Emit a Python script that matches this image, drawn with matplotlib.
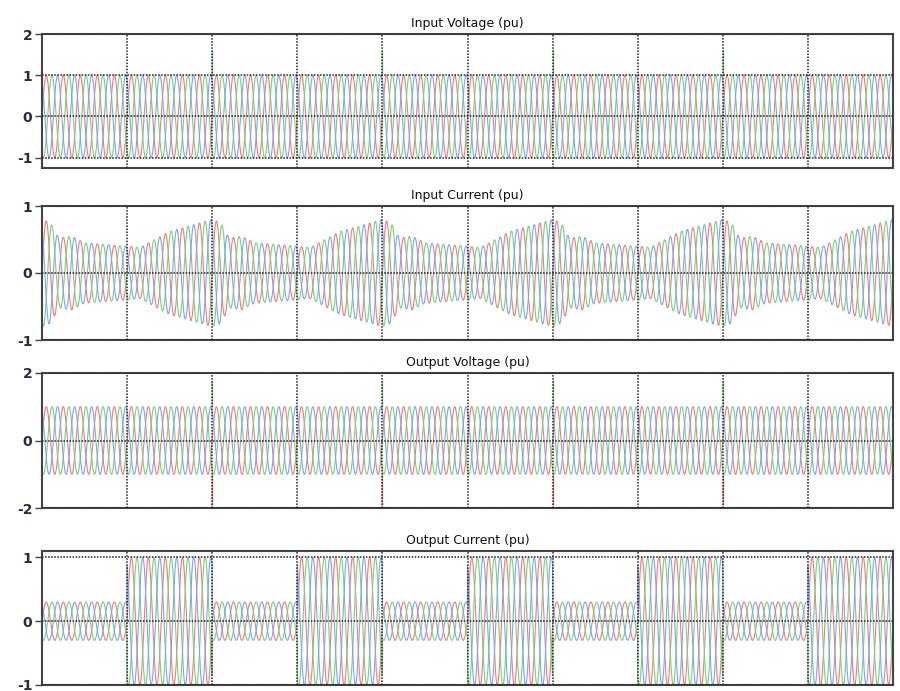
import numpy as np
import matplotlib
matplotlib.use("Agg")
import matplotlib.pyplot as plt

# ---- data ----
seg_edges = [0, 1, 2, 3, 4, 5, 6, 7, 8, 9, 10]
cycles_per_seg = 5

vin_amp = [1.0, 1.0, 1.0, 1.0, 1.0, 1.0, 1.0, 1.0, 1.0, 1.0]
vout_amp = [1.0, 1.0, 1.0, 1.0, 1.0, 1.0, 1.0, 1.0, 1.0, 1.0]
iout_amp = [0.3, 1.0, 0.3, 1.0, 0.3, 1.0, 0.3, 1.0, 0.3, 1.0]

# input current envelope inside a segment (fraction of segment, amplitude)
iin_kind = ["decay", "rise", "decay", "rise", "decay", "rise", "decay", "rise", "decay", "rise"]
iin_decay_frac = [0.0, 0.1, 0.2, 0.35, 0.5, 1.0]
iin_decay_amp = [0.8, 0.75, 0.52, 0.55, 0.45, 0.4]
iin_rise_frac = [0.0, 0.15, 0.5, 1.0]
iin_rise_amp = [0.4, 0.38, 0.62, 0.8]

# switching transients
vin_spike_t = [2, 4, 6, 8]
vin_spike_top = [1.6, 1.6, 1.6, 1.6]
vout_spike_t = [2, 4, 6, 8]
vout_spike_top = [1.8, 1.8, 1.8, 1.8]
vout_spike_bot = [-1.9, -1.9, -1.9, -1.9]

titles = ["Input Voltage (pu)", "Input Current (pu)", "Output Voltage (pu)", "Output Current (pu)"]
ylims = [(-1.25, 2), (-1, 1), (-2, 2), (-1, 1.1)]
yticks = [[-1, 0, 1, 2], [-1, 0, 1], [-2, 0, 2], [-1, 0, 1]]

colors = ["#f07c7c", "#7ccf7c", "#7ca6f0"]
phases = [0.0, -2 * np.pi / 3, 2 * np.pi / 3]


def seg_envelope(t, amps):
    idx = np.clip(np.floor(t).astype(int), 0, len(amps) - 1)
    return np.asarray(amps)[idx]


def iin_envelope(t):
    env = np.zeros_like(t)
    for k, kind in enumerate(iin_kind):
        m = (t >= seg_edges[k]) & (t <= seg_edges[k + 1])
        f = t[m] - seg_edges[k]
        if kind == "decay":
            env[m] = np.interp(f, iin_decay_frac, iin_decay_amp)
        else:
            env[m] = np.interp(f, iin_rise_frac, iin_rise_amp)
    return env


t = np.linspace(seg_edges[0], seg_edges[-1], 20001)
w = 2 * np.pi * cycles_per_seg

envs = [seg_envelope(t, vin_amp), iin_envelope(t), seg_envelope(t, vout_amp), seg_envelope(t, iout_amp)]

fig = plt.figure(figsize=(9, 6.91), dpi=100)
W, H = 900, 691
boxes = [(34, 168), (206, 340), (373, 508), (551, 685)]
left, right = 42, 893

for i, (top, bot) in enumerate(boxes):
    ax = fig.add_axes([left / W, 1 - bot / H, (right - left) / W, (bot - top) / H])
    for c, ph in zip(colors, phases):
        ax.plot(t, envs[i] * np.sin(w * t + ph), color=c, lw=0.8, zorder=2)
    if i == 0:
        ax.vlines(vin_spike_t, 1.0, vin_spike_top, color=colors[1], lw=1.0, zorder=2)
    if i == 2:
        ax.vlines(vout_spike_t, 1.0, vout_spike_top, color=colors[1], lw=1.0, zorder=2)
        ax.vlines(vout_spike_t, vout_spike_bot, -1.0, color=colors[0], lw=1.0, zorder=2)
    ax.set_xlim(seg_edges[0], seg_edges[-1])
    ax.set_ylim(*ylims[i])
    ax.set_yticks(yticks[i])
    ax.set_yticklabels([str(v) for v in yticks[i]], fontsize=10, fontweight="bold", color="#2b2b40")
    ax.set_xticks(seg_edges[1:-1])
    ax.tick_params(axis="x", length=0, labelbottom=False)
    ax.tick_params(axis="y", length=5, width=1.0, color="#444444", pad=2)
    for v in seg_edges[1:-1]:
        ax.axvline(v, color="#222222", lw=1.1, ls=(0, (1, 1)), zorder=3)
    for v in yticks[i]:
        ax.axhline(v, color="#222222", lw=1.1, ls=(0, (1, 1)), zorder=3)
    for s in ax.spines.values():
        s.set_color("#444444")
        s.set_linewidth(1.5)
    ax.set_title(titles[i], fontsize=9, color="#111111", pad=5)

fig.savefig("out.png", dpi=100)
